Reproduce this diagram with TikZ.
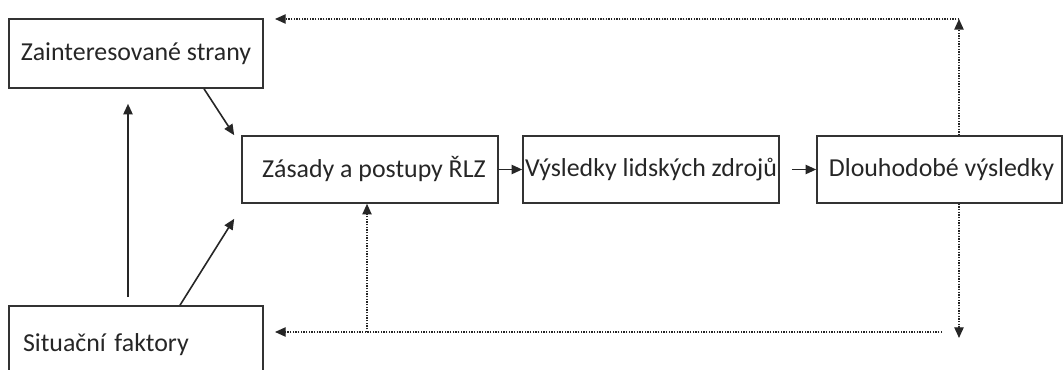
\documentclass[tikz,border=0pt]{standalone}
\usepackage{fontspec}
\setmainfont{Carlito}
\usetikzlibrary{arrows.meta}

\begin{document}
\begin{tikzpicture}[x=0.75pt, y=-0.75pt,
  box/.style={draw=black!80, line width=1.2pt, text=black!85, font=\fontsize{19.4}{23}\selectfont, inner sep=0pt},
  arr/.style={line width=1.2pt, black!85, -{Triangle[length=8pt,width=7pt]}},
  dots/.style={line width=1pt, black!60, densely dotted, -{Triangle[length=8pt,width=7pt]}, black!85}]
\clip (0,0) rectangle (1064,370);
\node[box, minimum width=190.5pt, minimum height=51.75pt] (zs) at (136,53.5) {Zainteresované strany};
\node[box, minimum width=190.5pt, minimum height=58.5pt, text width=169.5pt, align=left, inner xsep=10.5pt] (sit) at (136,345) {Situační faktory};
\node[box, minimum width=192pt, minimum height=50.25pt] (zas) at (370,169.5) {\hspace{6pt}Zásady a postupy ŘLZ};
\node[box, minimum width=192pt, minimum height=50.25pt] (vys) at (651,169.5) {Výsledky lidských zdrojů};
\node[box, minimum width=183.75pt, minimum height=50.25pt] (dlo) at (939.5,169.5) {\hspace{3pt}Dlouhodobé výsledky};
\coordinate (tr) at (959,19);
\coordinate (tl) at (275,19);
\coordinate (bd) at (959,338);
\coordinate (be) at (942,332);
\coordinate (bl) at (275,332);
\coordinate (bm) at (367,332);
\draw[arr] ([xshift=51pt]zs.south) -- ([xshift=-5.25pt]zas.north west);
\draw[arr] ([xshift=33pt]sit.north) -- ([xshift=-5.25pt, yshift=-11.25pt]zas.south west);
\draw[arr] ([xshift=-6pt, yshift=6pt]sit.north) -- ([xshift=-6pt, yshift=-11.25pt]zs.south);
\draw[arr] (zas.east) -- (vys.west);
\draw[arr] ([xshift=9pt]vys.east) -- (dlo.west);
\draw[dots] (dlo.north -| tr) -- (tr);
\draw[dots] (tr) -- (tl);
\draw[dots] (dlo.south -| bd) -- (bd);
\draw[dots] (be) -- (bl);
\draw[dots] (bm) -- (bm |- zas.south);
\end{tikzpicture}
\end{document}
